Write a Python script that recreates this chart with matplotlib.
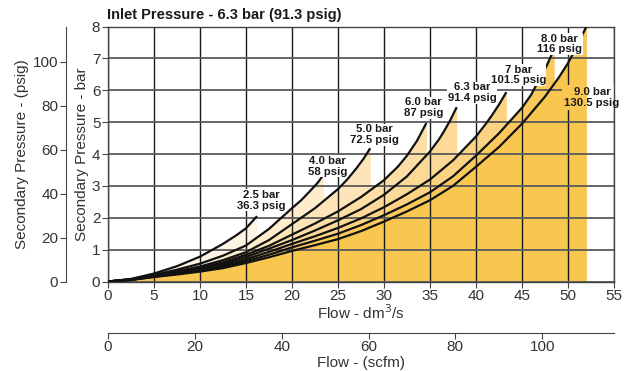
import matplotlib
matplotlib.use('Agg')
import matplotlib.pyplot as plt
from matplotlib.patches import Rectangle

BAR_TO_PSI = 14.5038
DM3S_TO_SCFM = 2.1189

title = 'Inlet Pressure - 6.3 bar (91.3 psig)'
curve_labels = ['2.5 bar\n36.3 psig', '4.0 bar\n58 psig', '5.0 bar\n72.5 psig',
                '6.0 bar\n87 psig', '6.3 bar\n91.4 psig', '7 bar\n101.5 psig',
                '8.0 bar\n116 psig', '9.0 bar\n130.5 psig']

# flow (dm3/s) and secondary pressure (bar)
flow_2_5 = [0, 2.5, 5, 7.5, 10, 12.5, 14, 15, 16.2]
pres_2_5 = [0, 0.08, 0.25, 0.48, 0.78, 1.18, 1.46, 1.67, 2.05]

flow_4_0 = [0, 2.5, 5, 7.5, 10, 12.5, 15, 17.5, 20, 21, 22, 22.8, 23.4]
pres_4_0 = [0, 0.07, 0.21, 0.37, 0.56, 0.81, 1.13, 1.65, 2.3, 2.55, 2.85, 3.1, 3.34]

flow_5_0 = [0, 2.5, 5, 7.5, 10, 12.5, 15, 17.5, 20, 22.5, 25, 26, 27, 27.8, 28.5]
pres_5_0 = [0, 0.07, 0.19, 0.32, 0.47, 0.67, 0.92, 1.3, 1.8, 2.3, 2.9, 3.2, 3.55, 3.86, 4.18]

flow_6_0 = [0, 2.5, 5, 7.5, 10, 12.5, 15, 17.5, 20, 22.5, 25, 27.5, 30, 31.5, 32.5, 33.6, 34.6]
pres_6_0 = [0, 0.06, 0.18, 0.3, 0.43, 0.6, 0.84, 1.12, 1.47, 1.82, 2.2, 2.65, 3.18, 3.6, 3.95, 4.42, 4.97]

flow_6_3 = [0, 2.5, 5, 7.5, 10, 12.5, 15, 17.5, 20, 22.5, 25, 27.5, 30, 32.5, 35, 36, 36.5, 37.2, 37.9]
pres_6_3 = [0, 0.06, 0.17, 0.28, 0.4, 0.55, 0.77, 1.03, 1.3, 1.6, 1.92, 2.27, 2.72, 3.3, 4.08, 4.47, 4.7, 5.06, 5.47]

flow_7_0 = [0, 2.5, 5, 7.5, 10, 12.5, 15, 17.5, 20, 22.5, 25, 27.5, 30, 32.5, 35, 37.5, 40, 41, 41.7, 42.5, 43.3]
pres_7_0 = [0, 0.05, 0.16, 0.26, 0.37, 0.5, 0.7, 0.93, 1.18, 1.42, 1.68, 1.98, 2.33, 2.74, 3.2, 3.8, 4.55, 4.92, 5.2, 5.55, 5.94]

flow_8_0 = [0, 2.5, 5, 7.5, 10, 12.5, 15, 17.5, 20, 22.5, 25, 27.5, 30, 32.5, 35, 37.5, 40, 42.5, 45, 46, 46.8, 47.7, 48.5]
pres_8_0 = [0, 0.05, 0.15, 0.24, 0.34, 0.46, 0.64, 0.84, 1.07, 1.28, 1.5, 1.77, 2.08, 2.42, 2.8, 3.3, 3.95, 4.65, 5.45, 5.86, 6.3, 6.78, 7.3]

flow_9_0 = [0, 2.5, 5, 7.5, 10, 12.5, 15, 17.5, 20, 22.5, 25, 27.5, 30, 32.5, 35, 37.5, 40, 42.5, 45, 47.5, 49, 50, 51, 52]
pres_9_0 = [0, 0.05, 0.14, 0.22, 0.31, 0.42, 0.58, 0.76, 0.96, 1.14, 1.33, 1.58, 1.88, 2.2, 2.55, 3.0, 3.6, 4.22, 4.95, 5.8, 6.4, 6.85, 7.4, 8.0]

x_ticks = [0, 5, 10, 15, 20, 25, 30, 35, 40, 45, 50, 55]
y_ticks = [0, 1, 2, 3, 4, 5, 6, 7, 8]
psig_ticks = [0, 20, 40, 60, 80, 100]
scfm_ticks = [0, 20, 40, 60, 80, 100]

flows = [flow_2_5, flow_4_0, flow_5_0, flow_6_0, flow_6_3, flow_7_0, flow_8_0, flow_9_0]
pressures = [pres_2_5, pres_4_0, pres_5_0, pres_6_0, pres_6_3, pres_7_0, pres_8_0, pres_9_0]

# styling
fill_colors = ['#FFF4E3', '#FEECCD', '#FEE5B9', '#FDDFA6', '#FCD996', '#FCD283', '#FAC95C', '#F9C650']
label_pos = [(16.7, 2.55), (23.9, 3.62), (29.0, 4.6), (34.3, 5.45), (39.6, 5.92),
             (44.6, 6.48), (49.1, 7.45), (52.6, 5.78)]

NARROW = ['Liberation Sans Narrow', 'Liberation Sans', 'DejaVu Sans']
REG = ['Liberation Sans', 'DejaVu Sans']
plt.rcParams['font.family'] = REG
TXT = '#333333'

fig = plt.figure(figsize=(6.37, 3.71), dpi=100)
ax = fig.add_axes([108 / 637, 1 - 281.5 / 371, 506 / 637, 255 / 371])
ax.set_xlim(0, 55)
ax.set_ylim(0, 8)

for f, p, c in zip(flows, pressures, fill_colors):
    ax.fill_between(f, p, 0, color=c, lw=0, zorder=1)
for f, p in zip(flows, pressures):
    ax.plot(f, p, color='#111111', lw=1.6, zorder=3, solid_capstyle='butt',
            solid_joinstyle='round')

ax.set_xticks(x_ticks)
ax.set_yticks(y_ticks)
ax.grid(axis='x', color='#1a1a1a', lw=1.0)
ax.grid(axis='y', color='#5a5a5a', lw=1.3)
for s in ax.spines.values():
    s.set_color('#444444')
    s.set_linewidth(1.0)
ax.tick_params(direction='out', length=4, color='#444444', labelsize=11,
               labelcolor=TXT, pad=1.5)
ax.set_xlabel('Flow - dm$^3$/s', fontsize=11, color=TXT, labelpad=0)
ax.set_ylabel('Secondary Pressure - bar', fontsize=11, color=TXT)
ax.yaxis.set_label_coords(-0.037, 0.5)

sec_y = ax.secondary_yaxis(-0.083, functions=(lambda b: b * BAR_TO_PSI,
                                              lambda q: q / BAR_TO_PSI))
sec_y.set_yticks(psig_ticks)
sec_y.tick_params(direction='out', length=4, color='#444444', labelsize=11,
                  labelcolor=TXT, pad=1.5)
sec_y.spines['left'].set_color('#444444')
sec_y.set_ylabel('Secondary Pressure - (psig)', fontsize=11, color=TXT, labelpad=3)

sec_x = ax.secondary_xaxis(-0.2, functions=(lambda q: q * DM3S_TO_SCFM,
                                            lambda s: s / DM3S_TO_SCFM))
sec_x.set_xticks(scfm_ticks)
sec_x.tick_params(direction='out', length=4, color='#444444', labelsize=11,
                  labelcolor=TXT, pad=1.5)
sec_x.spines['bottom'].set_color('#444444')
sec_x.set_xlabel('Flow - (scfm)', fontsize=11, color=TXT, labelpad=1)

texts = []
for i, (lab, (lx, ly)) in enumerate(zip(curve_labels, label_pos)):
    kw = dict(ha='center', va='center', fontsize=8.2, fontweight='bold',
              family=NARROW, color='#1a1a1a', linespacing=1.1, zorder=4 + i * 0.01)
    if i < len(curve_labels) - 1:
        kw['bbox'] = dict(boxstyle='square,pad=0.04', fc='white', ec='none')
    texts.append(ax.text(lx, ly, lab, **kw))

# last label: blank out grid behind it but keep the fill visible
fig.canvas.draw()
bb = texts[-1].get_window_extent().transformed(ax.transData.inverted())
rect = Rectangle((bb.x0 - 0.2, bb.y0 - 0.05), bb.width + 0.4, bb.height + 0.1,
                 fc='white', ec='none', zorder=1.6)
ax.add_patch(rect)
refill = ax.fill_between(flow_9_0, pres_9_0, 0, color=fill_colors[-1], lw=0, zorder=1.7)
refill.set_clip_path(rect)

fig.text(107 / 637, 1 - 15 / 371, title, fontsize=10.5, fontweight='bold',
         family=NARROW, color='#1a1a1a', va='center', ha='left')

fig.savefig('out.png', dpi=100)
